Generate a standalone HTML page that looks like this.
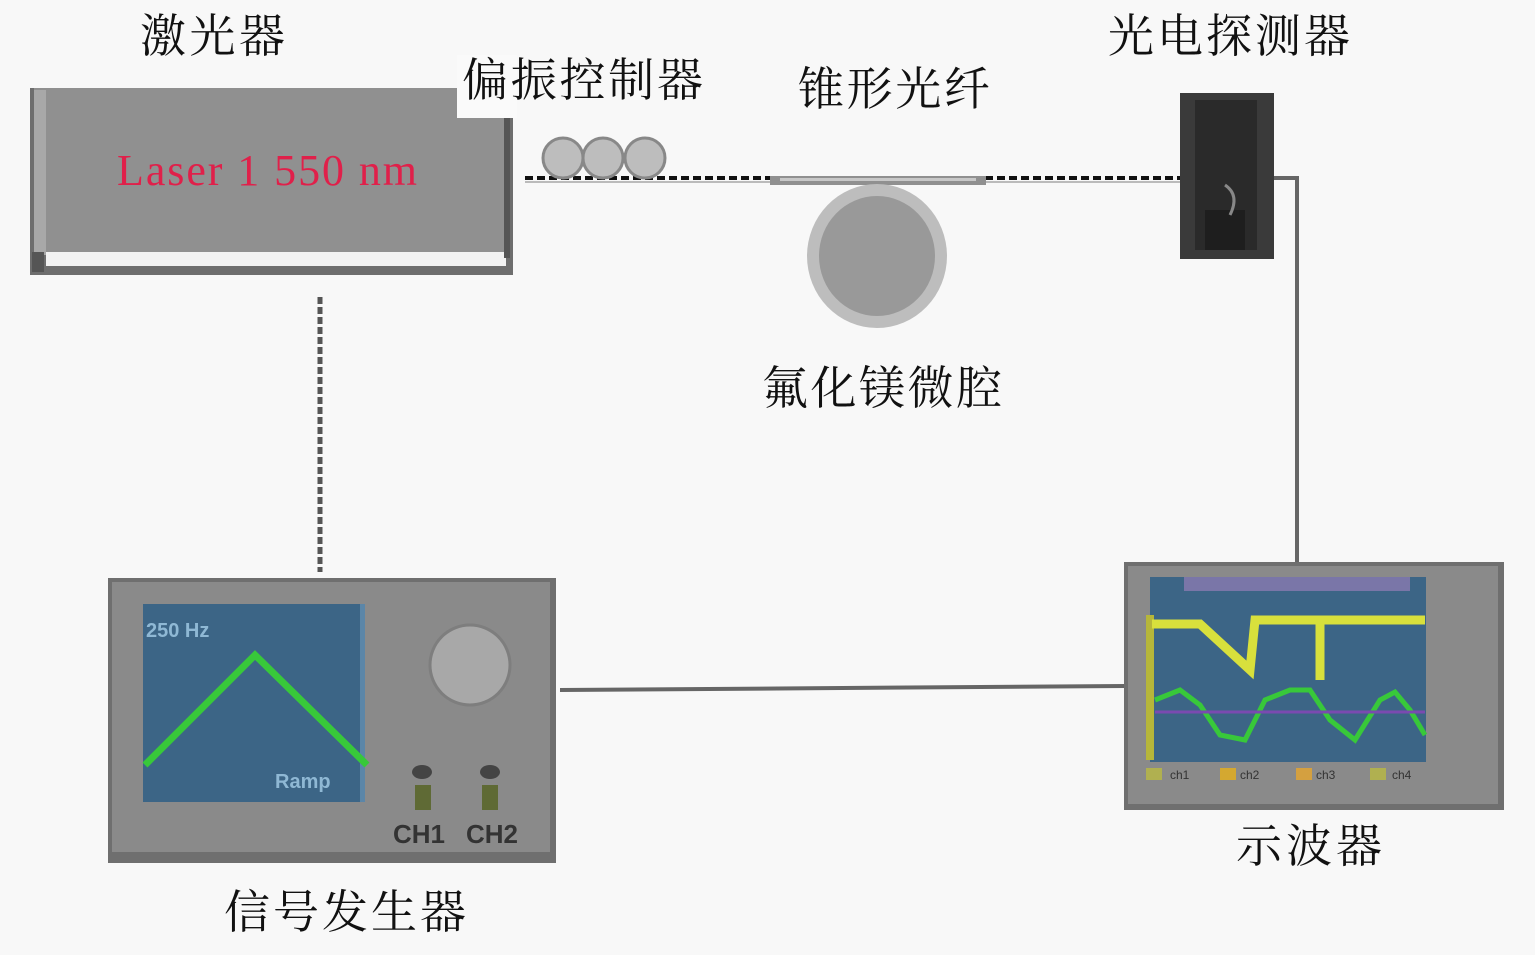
<!DOCTYPE html>
<html><head><meta charset="utf-8"><style>
html,body{margin:0;padding:0;background:#f8f8f8;}
svg{display:block}
.cn{font-family:"Liberation Serif","Noto Serif CJK SC",serif;font-size:46px;fill:#111;}
</style></head><body>
<svg width="1535" height="955" viewBox="0 0 1535 955" xmlns="http://www.w3.org/2000/svg">
<rect width="1535" height="955" fill="#f8f8f8"/>
<!-- laser -->
<rect x="30" y="88" width="483" height="187" fill="#6e6e6e"/>
<rect x="34" y="88" width="475" height="165" fill="#909090"/>
<rect x="34" y="90" width="12" height="165" fill="#a8a8a8"/>
<rect x="46" y="252" width="460" height="14" fill="#f2f2f2"/>
<rect x="32" y="252" width="12" height="20" fill="#555"/>
<rect x="457" y="55" width="60" height="63" fill="#fafafa"/>
<rect x="504" y="118" width="6" height="140" fill="#555"/>
<text x="117" y="185" font-family="Liberation Serif,serif" font-size="44" fill="#e0204a" textLength="300" lengthAdjust="spacing">Laser 1 550 nm</text>
<!-- labels -->
<text class="cn" x="140" y="52" textLength="145">激光器</text>
<text class="cn" x="462" y="96" textLength="241">偏振控制器</text>
<text class="cn" x="798" y="105" textLength="192">锥形光纤</text>
<text class="cn" x="1108" y="52" textLength="242">光电探测器</text>
<text class="cn" x="762" y="404" textLength="240">氟化镁微腔</text>
<text class="cn" x="1236" y="862" textLength="146">示波器</text>
<text class="cn" x="224" y="928" textLength="242">信号发生器</text>
<!-- fiber -->
<line x1="525" y1="178" x2="772" y2="178" stroke="#111" stroke-width="4" stroke-dasharray="8,4"/>
<line x1="985" y1="178" x2="1182" y2="178" stroke="#111" stroke-width="4" stroke-dasharray="8,4"/>
<line x1="525" y1="182" x2="772" y2="182" stroke="#bbb" stroke-width="2"/>
<line x1="985" y1="182" x2="1182" y2="182" stroke="#bbb" stroke-width="2"/>
<rect x="770" y="176" width="216" height="9" fill="#909090"/>
<rect x="780" y="178" width="196" height="3" fill="#c8c8c8"/>
<circle cx="563" cy="158" r="20" fill="#bdbdbd" stroke="#888" stroke-width="3"/>
<circle cx="603" cy="158" r="20" fill="#bdbdbd" stroke="#888" stroke-width="3"/>
<circle cx="645" cy="158" r="20" fill="#bdbdbd" stroke="#888" stroke-width="3"/>
<!-- resonator -->
<ellipse cx="877" cy="256" rx="70" ry="72" fill="#bdbdbd"/>
<ellipse cx="877" cy="256" rx="58" ry="60" fill="#999"/>
<!-- detector -->
<rect x="1180" y="93" width="94" height="166" fill="#3a3a3a"/>
<rect x="1195" y="100" width="62" height="150" fill="#2a2a2a"/>
<rect x="1205" y="210" width="40" height="40" fill="#1e1e1e"/>
<path d="M1225 185 q15 10 5 30" stroke="#888" stroke-width="3" fill="none"/>
<line x1="1274" y1="178" x2="1299" y2="178" stroke="#666" stroke-width="4"/>
<line x1="1297" y1="178" x2="1297" y2="563" stroke="#666" stroke-width="4"/>
<!-- laser to signal gen dashed -->
<line x1="320" y1="297" x2="320" y2="572" stroke="#555" stroke-width="5" stroke-dasharray="7,3"/>
<!-- signal gen -->
<rect x="108" y="578" width="448" height="285" fill="#6f6f6f"/>
<rect x="112" y="582" width="438" height="270" fill="#8a8a8a"/>
<rect x="143" y="604" width="222" height="198" fill="#3c6586"/>
<rect x="360" y="604" width="5" height="198" fill="#5b86a8"/>
<polyline points="145,765 255,655 367,765" fill="none" stroke="#38c83a" stroke-width="7"/>
<text x="146" y="637" font-family="Liberation Sans,sans-serif" font-size="20" font-weight="bold" fill="#8fb8d4">250 Hz</text>
<text x="275" y="788" font-family="Liberation Sans,sans-serif" font-size="20" font-weight="bold" fill="#8fb8d4">Ramp</text>
<circle cx="470" cy="665" r="40" fill="#a8a8a8" stroke="#7e7e7e" stroke-width="3"/>
<rect x="415" y="785" width="16" height="25" fill="#5f6a35"/>
<rect x="482" y="785" width="16" height="25" fill="#5f6a35"/>
<ellipse cx="422" cy="772" rx="10" ry="7" fill="#444"/>
<ellipse cx="490" cy="772" rx="10" ry="7" fill="#444"/>
<text x="393" y="843" font-family="Liberation Sans,sans-serif" font-size="26" font-weight="bold" fill="#333">CH1</text>
<text x="466" y="843" font-family="Liberation Sans,sans-serif" font-size="26" font-weight="bold" fill="#333">CH2</text>
<!-- gen to scope -->
<line x1="560" y1="690" x2="1125" y2="686" stroke="#666" stroke-width="4"/>
<!-- scope -->
<rect x="1124" y="562" width="380" height="248" fill="#6f6f6f"/>
<rect x="1128" y="566" width="370" height="238" fill="#8a8a8a"/>
<rect x="1150" y="577" width="276" height="185" fill="#3c6586"/>
<rect x="1184" y="577" width="226" height="14" fill="#7a76a8"/>
<rect x="1146" y="615" width="8" height="145" fill="#b6b63a"/>
<polyline points="1152,624 1200,624 1250,670 1255,620 1320,620 1320,680 1320,620 1425,620" fill="none" stroke="#d8e03c" stroke-width="9"/>
<polyline points="1155,700 1180,690 1200,705 1220,735 1245,740 1265,700 1290,690 1310,690 1330,720 1355,740 1380,700 1395,692 1410,710 1425,735" fill="none" stroke="#38c83a" stroke-width="5"/>
<line x1="1155" y1="712" x2="1425" y2="712" stroke="#7a4ab0" stroke-width="3"/>
<g font-family="Liberation Sans,sans-serif" font-size="12" fill="#333">
<rect x="1146" y="768" width="16" height="12" fill="#b0b050"/><text x="1170" y="779">ch1</text>
<rect x="1220" y="768" width="16" height="12" fill="#d4a830"/><text x="1240" y="779">ch2</text>
<rect x="1296" y="768" width="16" height="12" fill="#d4a040"/><text x="1316" y="779">ch3</text>
<rect x="1370" y="768" width="16" height="12" fill="#b0b050"/><text x="1392" y="779">ch4</text>
</g>
</svg>
</body></html>
